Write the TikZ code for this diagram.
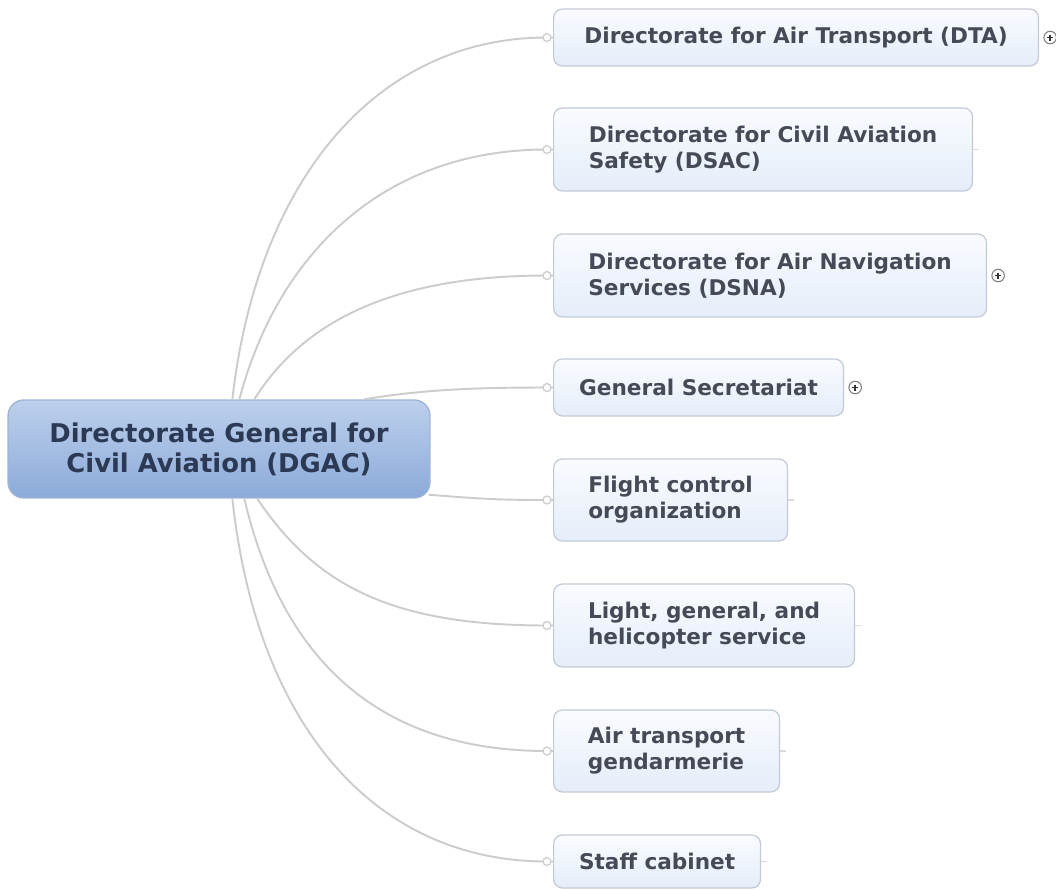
\documentclass[tikz,border=0pt]{standalone}
\usepackage{fontspec}
\setmainfont{DejaVu Sans}
\usetikzlibrary{calc}

\definecolor{linkgray}{HTML}{CCCCCC}
\definecolor{boxline}{HTML}{C3CAD6}
\definecolor{boxtop}{HTML}{F9FBFF}
\definecolor{boxbot}{HTML}{E5EDF9}
\definecolor{boxtext}{HTML}{464A56}
\definecolor{hubline}{HTML}{9FB4D6}
\definecolor{hubtop}{HTML}{BDD0EC}
\definecolor{hubbot}{HTML}{8BAAD9}
\definecolor{hubtext}{HTML}{2C3954}

\begin{document}
\begin{tikzpicture}[x=0.02cm, y=-0.02cm,
    hub/.style={rounded corners=9pt, draw=hubline, line width=0.8pt, top color=hubtop, bottom color=hubbot,
        text=hubtext, font=\bfseries\fontsize{14.7}{17}\selectfont, align=center, minimum width=8.44cm, minimum height=1.96cm},
    branch/.style={rounded corners=5pt, draw=boxline, line width=0.7pt, top color=boxtop, bottom color=boxbot,
        text=boxtext, font=\bfseries\fontsize{12.3}{14.8}\selectfont, align=left, anchor=west},
    link/.style={draw=linkgray, line width=1.1pt},
    joint/.style={circle, draw=linkgray, fill=white, line width=0.7pt, inner sep=0pt, minimum size=0.16cm},
    expander/.style={circle, draw=gray, fill=white, line width=0.6pt, inner sep=0pt, minimum size=0.25cm,
        path picture={\draw[line width=0.9pt, black!80] (path picture bounding box.center) ++(-3,0) -- ++(6,0)
            (path picture bounding box.center) ++(0,-3) -- ++(0,6);}},
    stub/.style={draw=linkgray!70, line width=0.6pt}]

    \useasboundingbox (0,0) rectangle (1056,890);

    \node[hub] (dgac) at (219,449) {Directorate General for\\Civil Aviation (DGAC)};

    \foreach \id/\cy/\w/\h/\txt in {
        dta/37.5/9.7/1.14/{Directorate for Air Transport (DTA)},
        dsac/149.5/8.38/1.66/{Directorate for Civil Aviation\\Safety (DSAC)},
        dsna/275.5/8.66/1.66/{Directorate for Air Navigation\\Services (DSNA)},
        gensec/387.5/5.8/1.14/{General Secretariat},
        flight/500/4.68/1.64/{Flight control\\organization},
        light/625.5/6.02/1.66/{Light, general, and\\helicopter service},
        gendarm/751/4.52/1.64/{Air transport\\gendarmerie},
        staff/861.5/4.14/1.06/{Staff cabinet}} {
        \node[branch, minimum width=\w cm, minimum height=\h cm] (\id) at (553,\cy) {\txt};
        \coordinate (\id-in) at ($(\id.west)+(-6,0)$);
    }

    % curved links from the hub
    \foreach \id/\anc/\dx/\dy/\ca/\cb in {
        dta/north west/225/0/{25,-220}/{-170,0},
        dsac/north west/232/0/{40,-150}/{-160,0},
        dsna/north west/247/0/{50,-80}/{-150,0},
        gensec/north west/357/0/{60,-10}/{-70,0},
        flight/south east/-2/-4/{50,4}/{-50,0},
        light/south west/250/0/{60,90}/{-150,0},
        gendarm/south west/237/0/{40,170}/{-160,0},
        staff/south west/225/0/{25,230}/{-170,0}} {
        \draw[link] ($(dgac.\anc)+(\dx,\dy)$) .. controls +(\ca) and +(\cb) .. (\id-in) -- (\id.west);
        \node[joint] at (\id-in) {};
    }

    \foreach \id in {dta,dsna,gensec} {
        \node[expander] (\id-plus) at ($(\id.east)+(11,0)$) {};
    }
    \foreach \id in {dsac,flight,light,gendarm,staff} {
        \draw[stub] (\id.east) -- ++(6,0);
    }
\end{tikzpicture}
\end{document}
